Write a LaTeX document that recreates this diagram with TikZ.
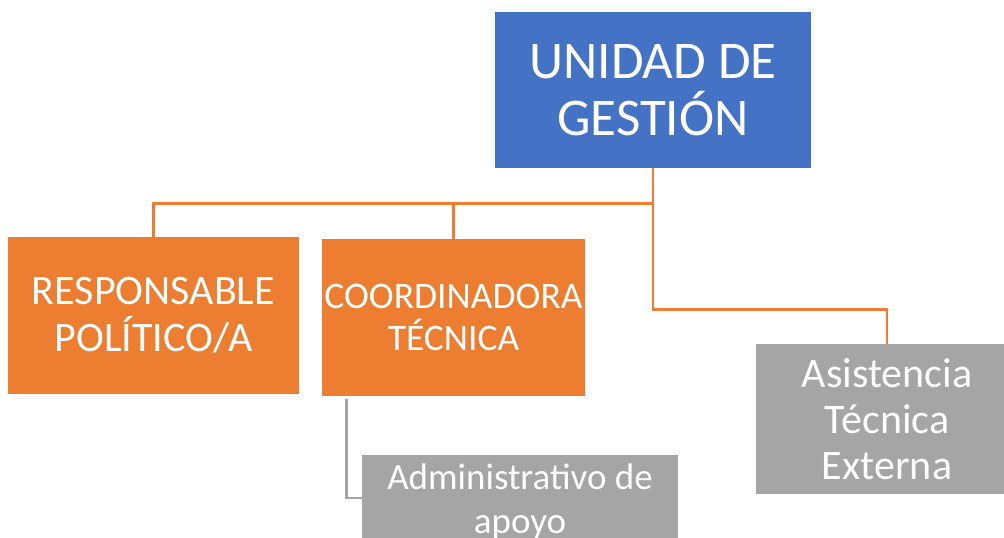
\documentclass[tikz,border=0pt]{standalone}
\usepackage{fontspec}
\setmainfont{Carlito}
\definecolor{azul}{HTML}{4472C4}
\definecolor{naranja}{HTML}{ED7D31}
\definecolor{gris}{HTML}{A5A5A5}

\begin{document}
\begin{tikzpicture}[x=1pt,y=-1pt,
   caja/.style={fill=#1,text=white,align=center,inner sep=0pt},
   linea/.style={draw=naranja,line width=2.8pt},
   lineagris/.style={draw=gris,line width=2.8pt}]
   \useasboundingbox (0,0) rectangle (1004,538);
   \node[caja=azul,minimum width=316pt,minimum height=156pt,font=\fontsize{53}{57}\selectfont] (unidad) at (653,90) {UNIDAD DE\\GESTIÓN};
   \node[caja=naranja,minimum width=291pt,minimum height=157pt,font=\fontsize{42}{47}\selectfont] (resp) at (153.5,315.5) {RESPONSABLE\\POLÍTICO/A};
   \node[caja=naranja,minimum width=263pt,minimum height=157pt,font=\fontsize{37.5}{42}\selectfont] (coord) at (453.5,317.5) {COORDINADORA\\TÉCNICA};
   \node[caja=gris,minimum width=262pt,minimum height=150pt,font=\fontsize{42}{46}\selectfont] (asist) at (887,419) {Asistencia\\Técnica\\Externa};
   \node[caja=gris,minimum width=316pt,minimum height=94pt,font=\fontsize{37}{44}\selectfont] (admin) at (520,502) {Administrativo de\\apoyo};
    \draw[linea] (unidad.south) -- ++(0,35) -| (resp.north);
    \draw[linea] (unidad.south) -- ++(0,35) -| (coord.north);
    \draw[linea] (unidad.south) -- ++(0,141) -| (asist.north);
    \draw[lineagris] ([xshift=25pt,yshift=-3pt]coord.south west) |- ([yshift=4pt]admin.west);
\end{tikzpicture}
\end{document}
